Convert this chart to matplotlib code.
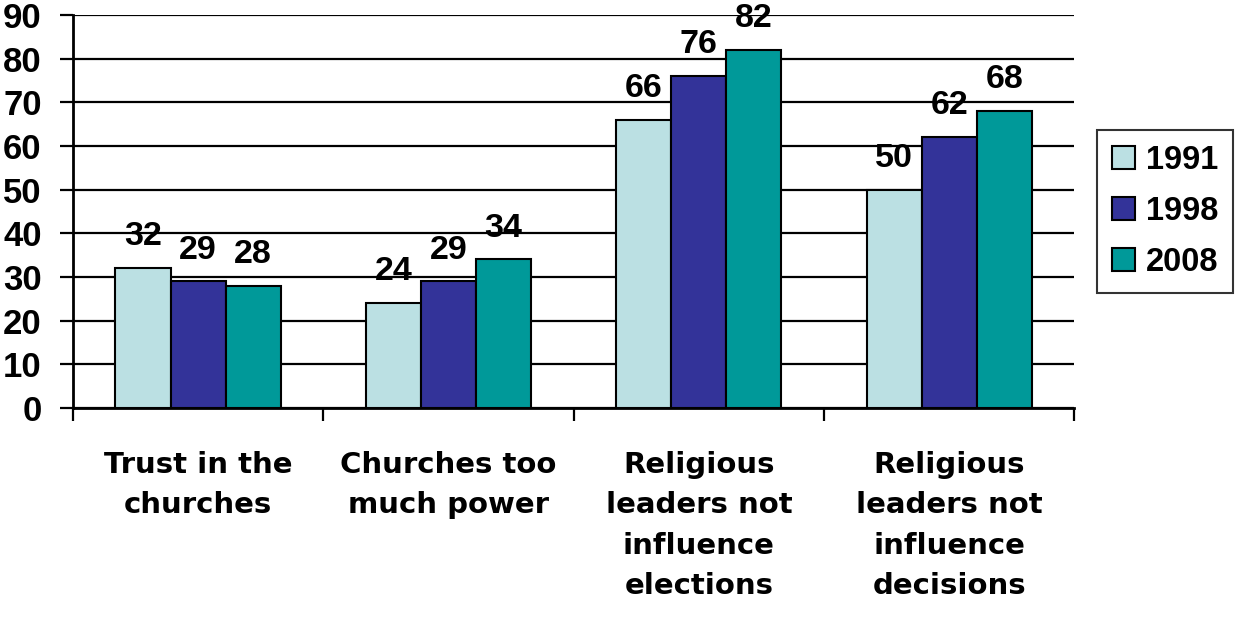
import numpy as np
import matplotlib.pyplot as plt

categories = ['Trust in the\nchurches', 'Churches too\nmuch power',
              'Religious\nleaders not\ninfluence\nelections',
              'Religious\nleaders not\ninfluence\ndecisions']
years = ['1991', '1998', '2008']
values_1991 = [32, 24, 66, 50]
values_1998 = [29, 29, 76, 62]
values_2008 = [28, 34, 82, 68]
colors = ['#BBE0E3', '#333399', '#009999']

plt.rcParams['font.family'] = ['Liberation Sans', 'DejaVu Sans']
plt.rcParams['font.weight'] = 'bold'

fig = plt.figure(figsize=(12.35, 6.19), dpi=100)
ax = fig.add_axes([0.059, 0.341, 0.811, 0.635])

x = np.arange(len(categories))
width = 0.22
series = [values_1991, values_1998, values_2008]
for i, vals in enumerate(series):
    pos = x + (i - 1) * width
    ax.bar(pos, vals, width, color=colors[i], edgecolor='black',
           linewidth=1.5, label=years[i], zorder=3)
    for xp, v in zip(pos, vals):
        ax.text(xp, v + 5.2, str(v), ha='center', va='baseline',
                fontsize=24.5, fontweight='bold', zorder=4)

ax.set_xlim(-0.5, len(categories) - 0.5)
ax.set_ylim(0, 90)
ax.set_yticks(range(0, 91, 10))
ax.yaxis.grid(True, color='black', linewidth=1.6, zorder=0)
ax.tick_params(axis='y', labelsize=25, length=9.5, width=1.6, pad=13)

# category ticks go at the group boundaries, labels in the middle
ax.set_xticks(np.arange(-0.5, len(categories), 1.0))
ax.set_xticklabels([])
ax.set_xticks(x, minor=True)
ax.set_xticklabels(categories, minor=True, fontsize=21, fontweight='bold',
                   family='DejaVu Sans', linespacing=1.56)
ax.tick_params(axis='x', which='major', length=9, width=1.6, direction='out')
ax.tick_params(axis='x', which='minor', length=0, pad=31)

for s in ['top', 'right']:
    ax.spines[s].set_visible(False)
ax.spines['left'].set_linewidth(2)
ax.spines['bottom'].set_linewidth(2)
for lbl in ax.get_yticklabels():
    lbl.set_fontweight('bold')

leg = ax.legend(loc='center left', bbox_to_anchor=(1.013, 0.5),
                fontsize=23.5, frameon=True, fancybox=False, edgecolor='black',
                handlelength=0.7, handleheight=0.7, handletextpad=0.35,
                labelspacing=0.62, borderpad=0.45, borderaxespad=0.3)
leg.get_frame().set_linewidth(1.5)
for t in leg.get_texts():
    t.set_fontweight('bold')

fig.savefig('out.png', dpi=100)
